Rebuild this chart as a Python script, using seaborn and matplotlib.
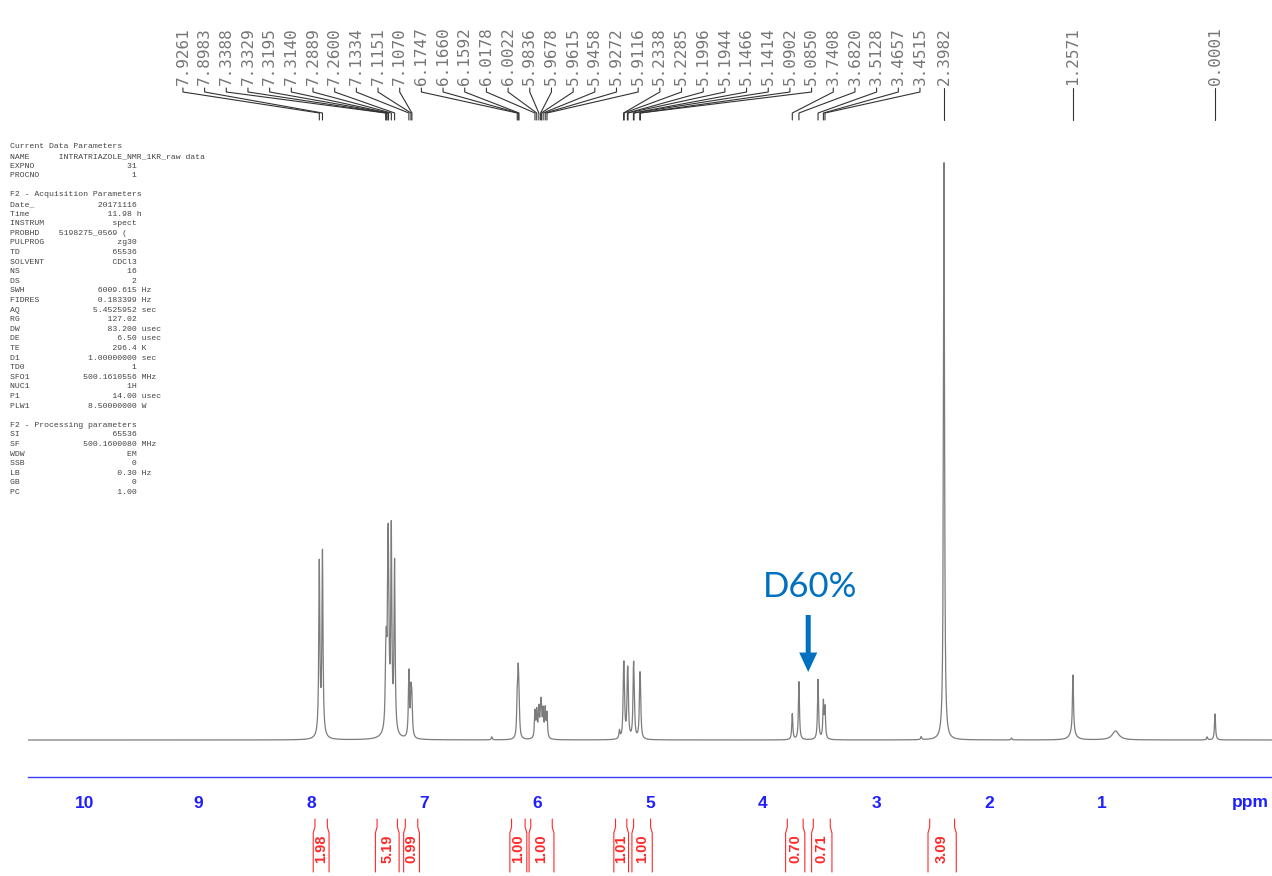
import numpy as np
import pandas as pd
import matplotlib
matplotlib.use("Agg")
import matplotlib.pyplot as plt
from matplotlib.ticker import MultipleLocator
import seaborn as sns

# picked peaks (ppm) and heights
peak_ppm = [7.9261, 7.8983, 7.3388, 7.3329, 7.3195, 7.3140, 7.2889, 7.2600,
            7.1334, 7.1151, 7.1070, 6.1747, 6.1660, 6.1592, 6.0178, 6.0022,
            5.9836, 5.9678, 5.9615, 5.9458, 5.9272, 5.9116, 5.2338, 5.2285,
            5.1996, 5.1944, 5.1466, 5.1414, 5.0902, 5.0850, 3.7408, 3.6820,
            3.5128, 3.4657, 3.4515, 2.3982, 1.2571, 0.0001]
peak_height = [170, 180, 45, 55, 115, 122, 195, 168,
               65, 40, 35, 35, 55, 30, 26, 26,
               28, 22, 26, 26, 28, 24, 48, 46,
               44, 42, 48, 46, 42, 40, 26, 58,
               60, 36, 30, 578, 58, 26]
peak_labels = ["%.4f" % p for p in peak_ppm]

# small unlabeled lines and broad humps
small_ppm = [6.40, 5.27, 2.60, 1.80, 0.07]
small_height = [3, 8, 3, 2, 3]
hump_ppm = [7.91, 7.31, 1.26, 0.88]
hump_height = [5, 10, 7, 9]
hump_width = [0.03, 0.04, 0.03, 0.035]

# integrals
integral_from = [7.98, 7.43, 7.18, 6.24, 6.07, 5.32, 5.16, 3.80, 3.57, 2.54]
integral_to = [7.84, 7.22, 7.04, 6.09, 5.85, 5.19, 4.98, 3.63, 3.39, 2.29]
integral_value = ["1.98", "5.19", "0.99", "1.00", "1.00", "1.01", "1.00", "0.70", "0.71", "3.09"]

tick_ppm = list(range(0, 11))
tick_labels = [""] + [str(i) for i in range(1, 11)]

params = [
    "Current Data Parameters",
    "NAME      INTRATRIAZOLE_NMR_1KR_raw data",
    "EXPNO                   31",
    "PROCNO                   1",
    "",
    "F2 - Acquisition Parameters",
    "Date_             20171116",
    "Time                11.98 h",
    "INSTRUM              spect",
    "PROBHD    5198275_0569 (",
    "PULPROG               zg30",
    "TD                   65536",
    "SOLVENT              CDCl3",
    "NS                      16",
    "DS                       2",
    "SWH               6009.615 Hz",
    "FIDRES            0.183399 Hz",
    "AQ               5.4525952 sec",
    "RG                  127.02",
    "DW                  83.200 usec",
    "DE                    6.50 usec",
    "TE                   296.4 K",
    "D1              1.00000000 sec",
    "TD0                      1",
    "SFO1           500.1610556 MHz",
    "NUC1                    1H",
    "P1                   14.00 usec",
    "PLW1            8.50000000 W",
    "",
    "F2 - Processing parameters",
    "SI                   65536",
    "SF             500.1600080 MHz",
    "WDW                     EM",
    "SSB                      0",
    "LB                    0.30 Hz",
    "GB                       0",
    "PC                    1.00",
]

ppm = np.arange(-0.505, 10.505, 0.0005)
gamma = 0.0055
spec = np.zeros_like(ppm)
for p, h in zip(peak_ppm + small_ppm, peak_height + small_height):
    spec += h * gamma**2 / ((ppm - p)**2 + gamma**2)
for p, h, w in zip(hump_ppm, hump_height, hump_width):
    spec += h * w**2 / ((ppm - p)**2 + w**2)
df = pd.DataFrame({"ppm": ppm, "intensity": spec})

sns.set_style("white")
blue = "#1f1fff"
red = "#ff2a2a"
W, H = 1272, 876

fig = plt.figure(figsize=(12.72, 8.76), dpi=100)
ax = fig.add_axes([28 / W, 1 - 777 / H, 1244 / W, 637 / H])
sns.lineplot(data=df, x="ppm", y="intensity", ax=ax, color="#7c7c7c",
             linewidth=0.9, estimator=None, sort=False)
ax.set_xlim(10.504, -0.504)
ax.set_ylim(-37, 600)
ax.set_xlabel("")
ax.set_ylabel("")
ax.set_yticks([])
for s in ["top", "left", "right"]:
    ax.spines[s].set_visible(False)
ax.spines["bottom"].set_color("#3c3cff")
ax.spines["bottom"].set_linewidth(1.0)

ax.set_xticks(tick_ppm, tick_labels)
ax.xaxis.set_minor_locator(MultipleLocator(0.1))
ax.tick_params(axis="x", which="major", length=6.5, width=1, color="#3c3cff",
               labelcolor=blue, pad=7, labelsize=12.5)
ax.tick_params(axis="x", which="minor", length=2.5, width=0.8, color="#3c3cff")
for lab in ax.get_xticklabels():
    lab.set_fontweight("bold")
    lab.set_family("Liberation Sans")

xt = ax.get_xaxis_transform()


def fy(px):
    return (777 - px) / 637


ax.text(-0.31, fy(803), "ppm", transform=xt, ha="center", va="center",
        color=blue, fontsize=12.5, fontweight="bold", family="Liberation Sans")

# peak picking labels
n_multi = 35
label_pos = list(np.linspace(9.133, 2.611, n_multi)) + peak_ppm[n_multi:]
for lab, p, lp in zip(peak_labels, peak_ppm, label_pos):
    ax.text(lp, fy(85), lab, rotation=90, ha="center", va="bottom", transform=xt,
            fontsize=11.5, family="DejaVu Sans Mono", color="#767676", clip_on=False)
    ax.plot([lp, lp, p, p], [fy(88), fy(92), fy(113), fy(120)], transform=xt,
            color="#333333", lw=0.8, clip_on=False)

# integrals
k = 0.015
for a, b, v in zip(integral_from, integral_to, integral_value):
    ax.plot([a - k, a - k, a, a], [fy(819), fy(827), fy(833), fy(872)],
            transform=xt, color=red, lw=0.8, clip_on=False)
    ax.plot([b + k, b + k, b, b], [fy(819), fy(827), fy(833), fy(872)],
            transform=xt, color=red, lw=0.8, clip_on=False)
    ax.text((a + b) / 2, fy(849), v, rotation=90, ha="center", va="center",
            transform=xt, color=red, fontsize=10.5, fontweight="bold",
            family="Liberation Sans", clip_on=False)

# deuteration note
ax.annotate("", xy=(3.60, 68), xytext=(3.60, 125),
            arrowprops=dict(facecolor="#0070c0", edgecolor="none", width=3.6,
                            headwidth=13, headlength=14, shrink=0))
ax.text(3.58, 153, "D60%", ha="center", va="center", color="#0070c0",
        fontsize=25, family="Lato")

# acquisition parameters block
for i, line in enumerate(params):
    fig.text(10 / W, 1 - (147 + i * 9.6) / H, line, ha="left", va="center",
             fontsize=5.9, family="Liberation Mono", color="#444444")

fig.savefig("out.png", dpi=100)
